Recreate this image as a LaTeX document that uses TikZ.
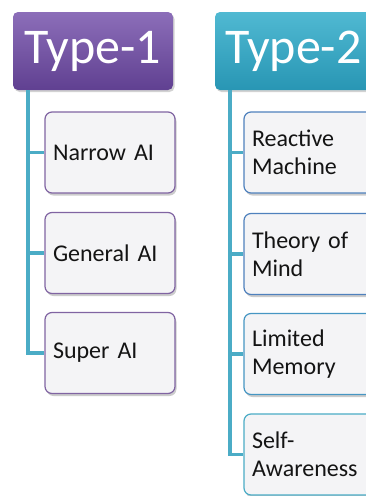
\documentclass[tikz,border=0pt]{standalone}
\usepackage{fontspec}
\setmainfont{Carlito}
\usetikzlibrary{shadows}
\definecolor{purpTop}{RGB}{140,110,185}
\definecolor{purpBot}{RGB}{96,64,145}
\definecolor{tealTop}{RGB}{80,185,210}
\definecolor{tealBot}{RGB}{40,150,180}
\definecolor{conncol}{RGB}{75,172,198}
\definecolor{boxfill}{RGB}{244,244,246}
\definecolor{purpBorder}{RGB}{128,100,162}
\definecolor{blueBorder}{RGB}{79,129,189}
\definecolor{blueTeal}{RGB}{70,150,195}
\definecolor{txt}{RGB}{20,20,20}
\tikzset{
  header/.style={rounded corners=5pt, minimum height=78pt, inner sep=0pt,
    text=white, font=\fontsize{50}{54}\selectfont,
    drop shadow={shadow xshift=1.5pt, shadow yshift=-2pt, opacity=0.35}},
  child/.style={rounded corners=7pt, fill=boxfill, line width=1.2pt,
    minimum width=130pt, minimum height=81pt, text width=114pt, align=left,
    inner xsep=8pt, inner ysep=0pt, text=txt,
    font=\fontsize{24}{28}\selectfont,
    drop shadow={shadow xshift=1.5pt, shadow yshift=-2.5pt, opacity=0.4}},
  conn/.style={draw=conncol, line width=3.5pt},
}
\begin{document}
\begin{tikzpicture}[x=1pt,y=-1pt]
\useasboundingbox (0,0) rectangle (366,496);
\clip (0,0) rectangle (366,496);
\fill[white] (0,0) rectangle (366,496);
% headers
\node[header, top color=purpTop, bottom color=purpBot, minimum width=160pt] (t1) at (93,51) {Type-1};
\node[header, top color=tealTop, bottom color=tealBot, minimum width=166pt, text width=156pt, align=left] (t2) at (298,51) {\hspace{5pt}Type-2};
% children type-1
\node[child, draw=purpBorder] (n1) at (110,152.5) {Narrow AI};
\node[child, draw=purpBorder] (n2) at (110,253) {General AI};
\node[child, draw=purpBorder] (n3) at (110,353) {Super AI};
% children type-2
\node[child, draw=blueBorder, text width=120pt] (m1) at (312,152.5) {Reactive\\Machine};
\node[child, draw=blueBorder, text width=120pt] (m2) at (312,254) {Theory of\\Mind};
\node[child, draw=blueTeal, text width=120pt] (m3) at (312,354) {Limited\\Memory};
\node[child, draw=conncol, text width=120pt] (m4) at (312,454.5) {Self-\\Awareness};
% connectors type-1
\coordinate (s1) at (28,90);
\draw[conn] (s1) |- (n3.west);
\draw[conn] (s1|-n1.west) -- (n1.west);
\draw[conn] (s1|-n2.west) -- (n2.west);
% connectors type-2
\coordinate (s2) at (230,90);
\draw[conn] (s2) |- (m4.west);
\draw[conn] (s2|-m1.west) -- (m1.west);
\draw[conn] (s2|-m2.west) -- (m2.west);
\draw[conn] (s2|-m3.west) -- (m3.west);
\end{tikzpicture}
\end{document}
